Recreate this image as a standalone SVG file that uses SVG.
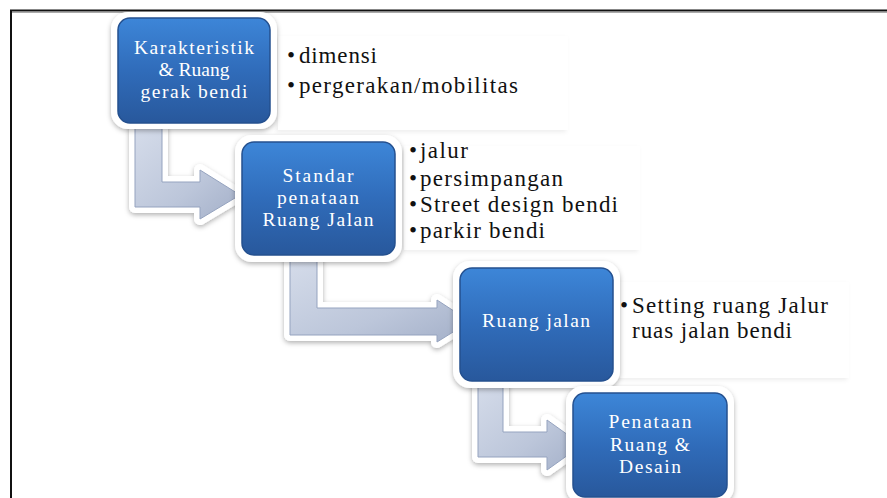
<svg xmlns="http://www.w3.org/2000/svg" width="887" height="498" viewBox="0 0 887 498">
<style>
text{font-family:'Liberation Serif','Times New Roman',serif}
.nt{font-size:19.5px;fill:#ffffff;text-anchor:middle}
.bt{font-size:23px;fill:#111111}
.outer{fill:#ffffff;filter:url(#sh)}
.inner{fill:url(#blue);stroke:#24508f;stroke-width:1.5}
.panel{fill:#ffffff;filter:url(#psh)}
.arw{fill:url(#arr);stroke:#95a3bf;stroke-width:1}
.arwo{fill:#ffffff;stroke:#ffffff;stroke-width:12;stroke-linejoin:round;filter:url(#sh)}
</style>
<defs>
<linearGradient id="blue" x1="0" y1="0" x2="0" y2="1">
<stop offset="0" stop-color="#3d86d8"/>
<stop offset="0.5" stop-color="#306cba"/>
<stop offset="1" stop-color="#28589c"/>
</linearGradient>
<linearGradient id="arr" x1="0" y1="0" x2="1" y2="1">
<stop offset="0" stop-color="#d5dcea"/>
<stop offset="0.6" stop-color="#bcc6da"/>
<stop offset="1" stop-color="#a3afc8"/>
</linearGradient>
<filter id="sh" x="-20%" y="-20%" width="140%" height="140%">
<feDropShadow dx="0" dy="2" stdDeviation="2.5" flood-color="#000" flood-opacity="0.3"/>
</filter>
<filter id="psh" x="-10%" y="-10%" width="120%" height="130%">
<feDropShadow dx="-2" dy="2" stdDeviation="2" flood-color="#000" flood-opacity="0.07"/>
</filter>
</defs>
<rect width="887" height="498" fill="#ffffff"/>
<g id="frame">
<line x1="10" y1="10.5" x2="887" y2="10.5" stroke="#111" stroke-width="2"/>
<line x1="11" y1="12.5" x2="887" y2="12.5" stroke="#aaa" stroke-width="1"/>
<line x1="11" y1="10" x2="11" y2="498" stroke="#111" stroke-width="2"/>
</g>
<g id="panels">
<rect class="panel" x="278" y="36" width="290" height="94"/>
<rect class="panel" x="404" y="146" width="236" height="104"/>
<rect class="panel" x="619" y="282" width="230" height="96"/>
</g>
<g id="connectors">
<path class="arwo" d="M135,128 H162 V182 H200 V170 L240,195 L200,219 V207 H135 Z"/>
<path class="arw" d="M135,128 H162 V182 H200 V170 L240,195 L200,219 V207 H135 Z"/>
<path class="arwo" d="M290,258 H317 V308 H437 V300 L470,321.5 L437,342 V335 H290 Z"/>
<path class="arwo" d="M478,380 H503 V432 H547 V420 L582,445 L547,470 V457 H478 Z"/>
<path class="arw" d="M290,258 H317 V308 H437 V300 L470,321.5 L437,342 V335 H290 Z"/>
<path class="arw" d="M478,380 H503 V432 H547 V420 L582,445 L547,470 V457 H478 Z"/>
</g>
<g id="node1">
<rect class="outer" x="111" y="12" width="166" height="117" rx="17"/>
<rect class="inner" x="118" y="18" width="152" height="105" rx="12"/>
<text class="nt" x="194" y="54" textLength="120" lengthAdjust="spacing">Karakteristik</text>
<text class="nt" x="194" y="76">&amp; Ruang</text>
<text class="nt" x="194" y="98" textLength="107" lengthAdjust="spacing">gerak bendi</text>
</g>
<g id="node2">
<rect class="outer" x="235" y="135" width="167" height="127" rx="17"/>
<rect class="inner" x="242" y="142" width="153" height="113" rx="12"/>
<text class="nt" x="318" y="182" textLength="71" lengthAdjust="spacing">Standar</text>
<text class="nt" x="318" y="204" textLength="82" lengthAdjust="spacing">penataan</text>
<text class="nt" x="318" y="226" textLength="111" lengthAdjust="spacing">Ruang Jalan</text>
</g>
<g id="node3">
<rect class="outer" x="453" y="261" width="167" height="127" rx="17"/>
<rect class="inner" x="460" y="268" width="153" height="113" rx="12"/>
<text class="nt" x="536" y="327" textLength="108" lengthAdjust="spacing">Ruang jalan</text>
</g>
<g id="node4">
<rect class="outer" x="566" y="386" width="168" height="118" rx="17"/>
<rect class="inner" x="573" y="393" width="154" height="104" rx="12"/>
<text class="nt" x="650" y="428" textLength="83" lengthAdjust="spacing">Penataan</text>
<text class="nt" x="650" y="451" textLength="80" lengthAdjust="spacing">Ruang &amp;</text>
<text class="nt" x="650" y="473" textLength="62" lengthAdjust="spacing">Desain</text>
</g>
<g id="text1">
<text class="bt" x="287" y="63">•</text>
<text class="bt" x="299" y="63" textLength="78" lengthAdjust="spacing">dimensi</text>
<text class="bt" x="287" y="93">•</text>
<text class="bt" x="299" y="93" textLength="219" lengthAdjust="spacing">pergerakan/mobilitas</text>
</g>
<g id="text2">
<text class="bt" x="409" y="158">•</text>
<text class="bt" x="420" y="158" textLength="48" lengthAdjust="spacing">jalur</text>
<text class="bt" x="409" y="186">•</text>
<text class="bt" x="420" y="186" textLength="143" lengthAdjust="spacing">persimpangan</text>
<text class="bt" x="409" y="212">•</text>
<text class="bt" x="420" y="212" textLength="198" lengthAdjust="spacing">Street design bendi</text>
<text class="bt" x="409" y="238">•</text>
<text class="bt" x="420" y="238" textLength="125" lengthAdjust="spacing">parkir bendi</text>
</g>
<g id="text3">
<text class="bt" x="620" y="313">•</text>
<text class="bt" x="632" y="313" textLength="196" lengthAdjust="spacing">Setting ruang Jalur</text>
<text class="bt" x="632" y="338" textLength="160" lengthAdjust="spacing">ruas jalan bendi</text>
</g>
</svg>
